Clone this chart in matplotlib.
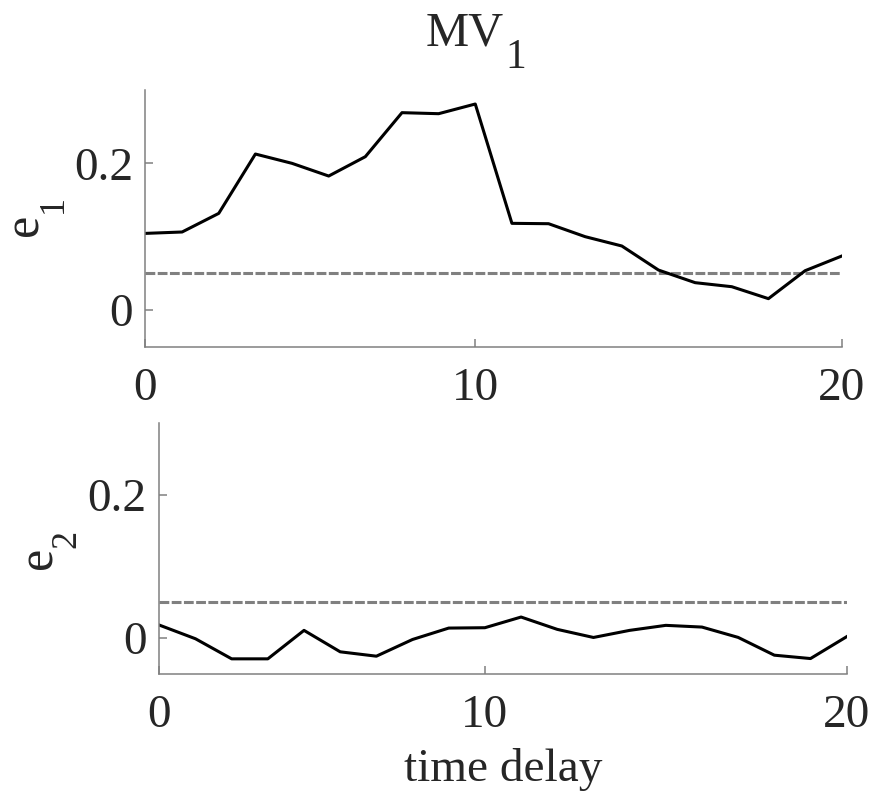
import matplotlib
matplotlib.use('Agg')
import matplotlib.pyplot as plt
import numpy as np

plt.rcParams['font.family'] = ['Liberation Serif', 'DejaVu Serif']
plt.rcParams['font.size'] = 34

# delay index (1..20), shown on axis as 0..20
delay = np.arange(1, 21)
tick_pos = [1, 10, 20]
tick_lab = ['0', '10', '20']

e1 = [0.1045, 0.1064, 0.1318, 0.2127, 0.2000, 0.1827, 0.2091, 0.2691, 0.2677, 0.2809,
      0.1182, 0.1177, 0.1000, 0.0873, 0.0545, 0.0373, 0.0318, 0.0155, 0.0536, 0.0736]
e2 = [0.0182, -0.0009, -0.0289, -0.0289, 0.0108, -0.0191, -0.0252, -0.0019, 0.0140, 0.0145,
      0.0294, 0.0122, 0.0009, 0.0108, 0.0178, 0.0154, 0.0010, -0.0238, -0.0285, 0.0020]
threshold = 0.05

axis_gray = '#808080'
text_col = '#262626'

W, H = 870, 793
fig = plt.figure(figsize=(W / 100, H / 100), dpi=100)
ax1 = fig.add_axes([0.1672, 0.5628, 0.8003, 0.3237])
ax2 = fig.add_axes([0.1831, 0.1501, 0.7901, 0.3165])


def px(x, y):
    # pixel position (from top-left) -> figure fraction
    return x / W, 1 - y / H


def sub_text(main, sub, p_main, p_sub, size, sub_size, rot=0):
    # text with a dropped subscript, drawn as two pieces
    kw = dict(color=text_col, ha='left', va='baseline', rotation=rot,
              rotation_mode='anchor')
    fig.text(*px(*p_main), main, fontsize=size, **kw)
    fig.text(*px(*p_sub), sub, fontsize=sub_size, **kw)


def style_axis(ax):
    ax.set_xlim(1, 20)
    ax.set_ylim(-0.05, 0.3)
    ax.set_xticks(tick_pos)
    ax.set_xticklabels(tick_lab)
    ax.set_yticks([0, 0.2])
    ax.set_yticklabels(['0', '0.2'])
    for s in ['top', 'right']:
        ax.spines[s].set_visible(False)
    for s in ['left', 'bottom']:
        ax.spines[s].set_color(axis_gray)
        ax.spines[s].set_linewidth(1.1)
    ax.tick_params(direction='in', length=6, width=1.1, color=axis_gray,
                   labelcolor=text_col)
    ax.tick_params(axis='x', pad=15)
    ax.tick_params(axis='y', pad=9)


for ax, e in [(ax1, e1), (ax2, e2)]:
    ax.plot(delay, np.full(len(delay), threshold), color=axis_gray, lw=2.2,
            dashes=(3.2, 0.8), zorder=1)
    ax.plot(delay, e, color='black', lw=2.2, zorder=2)
    style_axis(ax)

# title and y labels
sub_text('MV', '1', (426, 45), (505, 68), 35, 30)
sub_text('e', '1', (38, 236), (62, 213), 36, 26, rot=90)
sub_text('e', '2', (52, 569), (75, 548), 36, 26, rot=90)

ax2.set_xlabel('time delay', color=text_col, labelpad=8)

fig.savefig('out.png', dpi=100)
